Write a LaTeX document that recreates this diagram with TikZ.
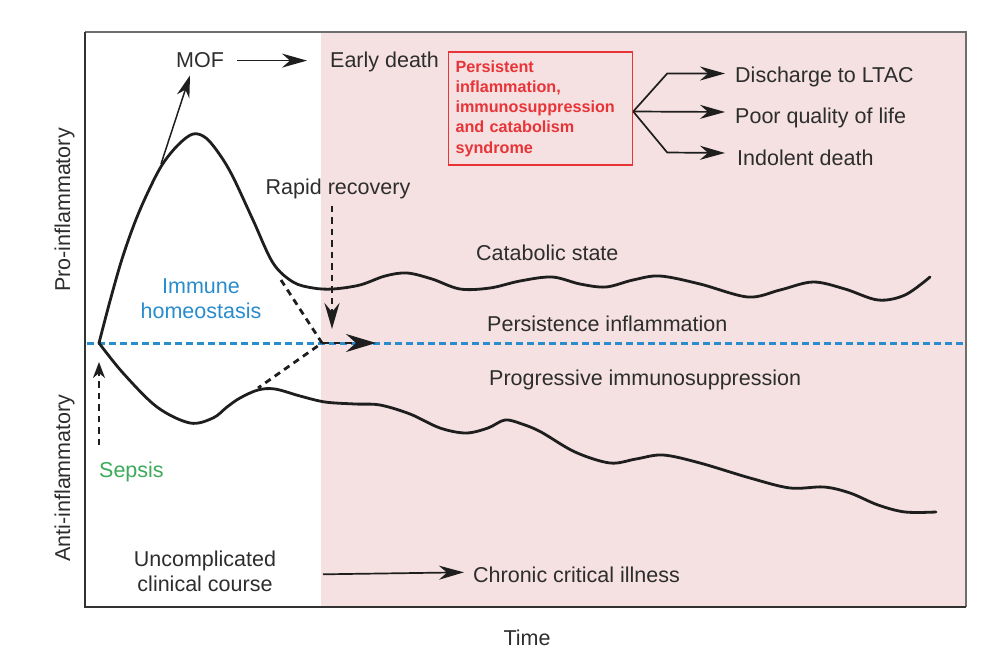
\documentclass[tikz,border=0pt]{standalone}
\usepackage{fontspec}
\setmainfont{Liberation Sans}
\usetikzlibrary{arrows.meta,calc}
\definecolor{pinkbg}{RGB}{245,225,225}
\definecolor{redcol}{RGB}{232,52,56}
\definecolor{bluecol}{RGB}{40,140,205}
\definecolor{greencol}{RGB}{60,170,90}
\definecolor{txtgray}{RGB}{45,45,45}
\definecolor{framedark}{RGB}{50,50,50}
\definecolor{framelight}{RGB}{110,110,110}
\definecolor{curvecol}{RGB}{30,30,30}
\begin{document}
\begin{tikzpicture}[x=1pt,y=-1pt,
  txt/.style={inner sep=0pt, text=txtgray, font=\fontsize{21.5}{25}\selectfont},
  twoline/.style={txt, align=center, font=\fontsize{21.5}{25.5}\selectfont},
  synbox/.style={draw=redcol, line width=1.4pt, text=redcol,
    font=\bfseries\fontsize{16.2}{20.2}\selectfont, align=left,
    text width=170pt, inner xsep=7pt, inner ysep=0pt, minimum height=113pt},
  curve/.style={line width=2.8pt, draw=curvecol, line cap=round, line join=round},
  bigarr/.style={draw=curvecol, line width=1.7pt, -{Stealth[length=25pt,width=14pt,inset=8pt]}},
  thinarr/.style={draw=curvecol, line width=1.5pt, -{Stealth[length=22pt,width=13pt,inset=7pt]}},
  dashline/.style={draw=curvecol, line width=2.8pt, dash pattern=on 6.5pt off 5pt},
  dasharr/.style={dashline, -{Stealth[length=26pt,width=15pt,inset=9pt]}},
  bigdasharr/.style={dashline, -{Stealth[length=30pt,width=18pt,inset=10pt]}},
  smalldasharr/.style={dashline, line width=2.2pt, -{Stealth[length=16pt,width=12pt,inset=5pt]}},
  bluedash/.style={draw=bluecol, line width=3pt, dash pattern=on 6.5pt off 4.5pt}
]
\useasboundingbox (0,0) rectangle (1004,666);
% background regions and frame
\fill[pinkbg] (321,32) rectangle (966,607);
\draw[framelight, line width=2pt] (85,32) -- (966,32) -- (966,607);
\draw[framedark, line width=2.6pt] (85,32) -- (85,607) -- (966,607);

% key coordinates
\coordinate (o) at (99,343);
\coordinate (conv) at (322,343);
\coordinate (ha) at (376,343);
\coordinate (u1) at (281,280);
\coordinate (l1) at (258,388);
\coordinate (m1) at (161,164);
\coordinate (rrtip) at (332,329);
\coordinate (pk) at (323,607);
\coordinate (bl) at (87,343);
\coordinate (br) at (966,343);

% blue homeostasis line
\draw[bluedash] (bl) -- (br);

% curves
\draw[curve] plot[smooth, tension=0.55] coordinates {
 (99,343) (110,301) (122,259) (135,222) (148,192) (162,165) (178,145)
 (193,134) (206,138)
 (220,155) (233,177) (253,220) (273,263) (293,282) (313,288) (333,289)
 (360,285) (385,276) (407,273) (432,279) (460,289) (490,288) (520,281)
 (552,277) (580,284) (606,287) (633,280) (660,276) (700,284) (748,297)
 (780,290) (813,282) (845,289) (878,300) (905,295) (930,277)};
\draw[curve] plot[smooth, tension=0.55] coordinates {
 (99,343) (123,373) (157,407) (190,423) (213,418) (227,407) (240,398)
 (258,390) (275,389) (300,396) (325,402) (355,404) (380,405) (410,414)
 (440,428) (466,433) (488,428) (505,420) (522,424) (541,432) (575,452)
 (610,463) (636,459) (663,455) (700,463) (750,478) (790,488) (824,487)
 (850,493) (878,505) (905,512) (936,512)};

% texts
\node[txt, anchor=base] (mof) at (200,68) {MOF};
\node[txt, anchor=base west] (ed) at (330,68) {Early death};
\node[synbox] (syn) at (540.5,108.5) {Persistent\\inflammation,\\immunosuppression\\and catabolism\\syndrome};
\node[txt, anchor=base west] (dis) at (735,83) {Discharge to LTAC};
\node[txt, anchor=base west] (pq) at (735,124) {Poor quality of life};
\node[txt, anchor=base west] (id) at (737,165) {Indolent death};
\node[txt, anchor=base] (rr) at (338,194) {Rapid recovery};
\node[txt, anchor=base west] (cs) at (476,260) {Catabolic state};
\node[txt, anchor=base west] (pi) at (487,331) {Persistence inflammation};
\node[txt, anchor=base west] (pim) at (489,385) {Progressive immunosuppression};
\node[twoline, text=bluecol, anchor=north] (ih) at (201,278.5) {Immune\\homeostasis};
\node[txt, text=greencol, anchor=base west] (sep) at (99,477) {Sepsis};
\node[twoline, anchor=north] (uc) at (205,550.5) {Uncomplicated\\clinical course};
\node[txt, anchor=base west] (cci) at (473,582) {Chronic critical illness};
\node[txt, anchor=base] (time) at (527,645) {Time};
\node[txt, rotate=90, anchor=base] (pro) at (70,210) {Pro-inflammatory};
\node[txt, rotate=90, anchor=base] (anti) at (70,478) {Anti-inflammatory};

% connectors
\draw[thinarr] (m1) -- ([xshift=-10pt,yshift=-7pt]mof.south);
\draw[bigarr, shorten <=13pt, shorten >=23pt] (mof.east) -- (mof.east -| ed.west);
\coordinate (ap) at ([yshift=-3pt]syn.east);
\draw[bigarr] (ap) -- ++(34,-38) -- ([xshift=-10pt,yshift=9.5pt]dis.base west);
\draw[bigarr] (ap) -- ([xshift=-10pt,yshift=12pt]pq.base west);
\draw[bigarr] (ap) -- ++(34,41) -- ([xshift=-12pt,yshift=12pt]id.base west);
\draw[dashline] (u1) -- (conv) -- (l1);
\draw[dasharr, shorten <=7pt] (rr.south -| rrtip) -- (rrtip);
\draw[bigdasharr] (conv) -- (ha);
\draw[smalldasharr, shorten <=16pt, shorten >=19pt] (o |- sep.north) -- (o);
\draw[bigarr] (cci.west -| pk) -- ([xshift=-9pt,yshift=2pt]cci.west);
\end{tikzpicture}
\end{document}
